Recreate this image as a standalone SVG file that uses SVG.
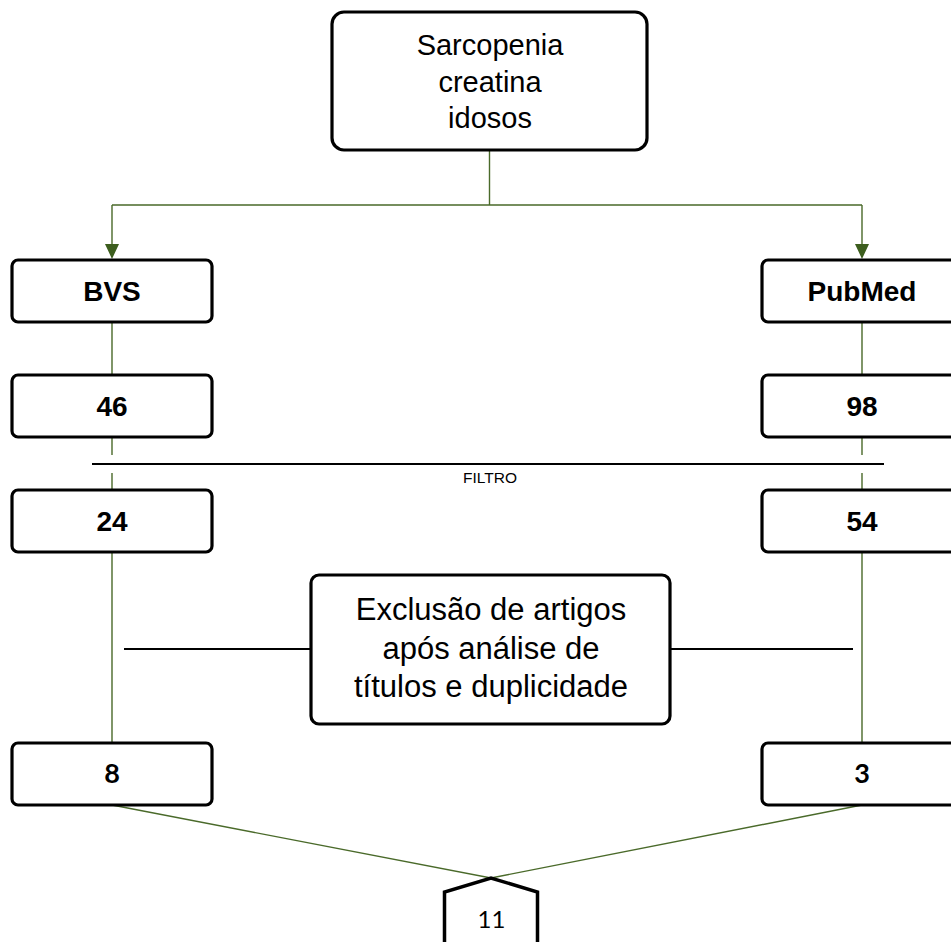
<svg xmlns="http://www.w3.org/2000/svg" width="951" height="942" viewBox="0 0 951 942">
<style>
.box{fill:#fff;stroke:#000;stroke-width:3.2}
.conn{fill:none;stroke:#4a6a2a;stroke-width:1.4}
.rule{fill:none;stroke:#000;stroke-width:2}
.t{font-family:"Liberation Sans",Arial,sans-serif;text-anchor:middle;fill:#000}
.b{font-weight:bold;font-size:28px}
.c{font-family:Lato,"Liberation Sans",sans-serif;text-anchor:middle;fill:#000}
.head{fill:#3d5e1e}
</style>
<rect width="951" height="942" fill="#fff"/>
<g id="connectors">
<path class="conn" d="M489.5,150 V205 M112,205 H862"/>
<path class="conn" d="M112,205 V244 M862,205 V244"/>
<path class="head" d="M105,244 L119,244 L112,259 Z"/>
<path class="head" d="M855,244 L869,244 L862,259 Z"/>
<path class="conn" d="M112,322 V375 M862,322 V375"/>
<path class="conn" d="M112,437 V455 M112,473 V489 M862,437 V455 M862,473 V489"/>
<path class="conn" d="M112,552 V743 M862,552 V743"/>
<path class="conn" d="M112,805 L491,878 L862,805"/>
<path class="rule" d="M92,464 H884"/>
<path class="rule" d="M124,649 H311 M670,649 H853"/>
</g>
<text class="t" x="490" y="483" font-size="15" textLength="54" lengthAdjust="spacingAndGlyphs">FILTRO</text>
<g id="n-query">
<rect class="box" x="332" y="12" width="315" height="138" rx="12"/>
<text class="t" font-size="29"><tspan x="490" y="55">Sarcopenia</tspan><tspan x="490" y="92">creatina</tspan><tspan x="490" y="128">idosos</tspan></text>
</g>
<g id="n-bvs">
<rect class="box" x="12" y="260" width="200" height="62" rx="6"/>
<text class="t b" x="112" y="301">BVS</text>
</g>
<g id="n-pubmed">
<rect class="box" x="762" y="260" width="200" height="62" rx="6"/>
<text class="t b" x="862" y="301">PubMed</text>
</g>
<g id="n-46">
<rect class="box" x="12" y="375" width="200" height="62" rx="6"/>
<text class="t b" x="112" y="416">46</text>
</g>
<g id="n-98">
<rect class="box" x="762" y="375" width="200" height="62" rx="6"/>
<text class="t b" x="862" y="416">98</text>
</g>
<g id="n-24">
<rect class="box" x="12" y="490" width="200" height="62" rx="6"/>
<text class="t b" x="112" y="531">24</text>
</g>
<g id="n-54">
<rect class="box" x="762" y="490" width="200" height="62" rx="6"/>
<text class="t b" x="862" y="531">54</text>
</g>
<g id="n-exclusao">
<rect class="box" x="311" y="575" width="359" height="149" rx="8"/>
<text class="t" font-size="31"><tspan x="491" y="620">Exclusão de artigos</tspan><tspan x="491" y="659">após análise de</tspan><tspan x="491" y="697">títulos e duplicidade</tspan></text>
</g>
<g id="n-8">
<rect class="box" x="12" y="743" width="200" height="62" rx="6"/>
<text class="c" x="112" y="783" font-size="27" font-weight="bold">8</text>
</g>
<g id="n-3">
<rect class="box" x="762" y="743" width="200" height="62" rx="6"/>
<text class="c" x="862" y="783" font-size="27" font-weight="bold">3</text>
</g>
<g id="n-11">
<path d="M444.5,960 V892 L491,878 L537.5,892 V960" fill="#fff" stroke="#000" stroke-width="3.5" stroke-linejoin="miter"/>
<text class="c" x="491.5" y="928" font-size="24">11</text>
</g>
</svg>
